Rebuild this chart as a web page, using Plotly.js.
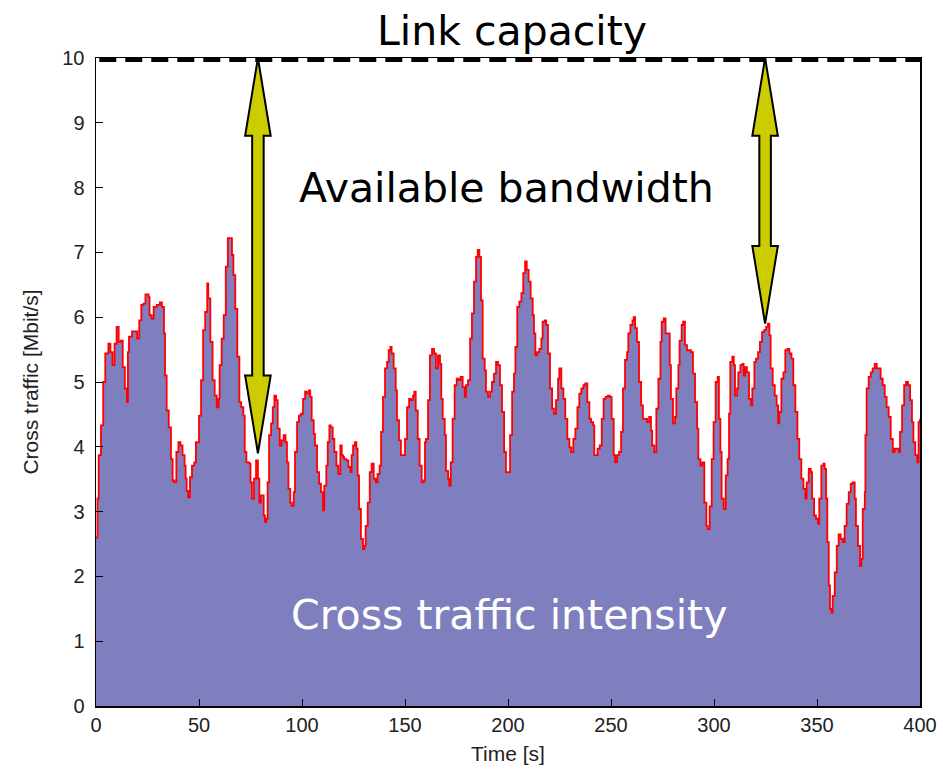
<!DOCTYPE html>
<html>
<head>
<meta charset="utf-8">
<script src="https://cdn.plot.ly/plotly-3.0.1.min.js"></script>
<style>html,body{margin:0;padding:0;background:#fff;}#chart{width:943px;height:774px;}</style>
</head>
<body>
<div id="chart"></div>
<script>
const timeS = [0,0.7,1.3,2.4,3.5,4.5,6,7,8,9,10,11,12,13,14,15,15.5,16,17.5,19,20,21,22,23,24,25.5,26,27,28,29.5,31,32,33,33.5,34.3,35.3,36.4,37.2,38,39,40,41,42,43,43.5,44,44.7,45.6,46.6,47.7,48.5,50,51,52,53,54,54.5,55.5,56.6,57.6,58.6,59.5,60,61,62,63,64,65,66,66.7,67.6,68.6,69.6,70.5,71.5,72.2,73,74.4,75,75.7,76.7,77.7,78.6,79.3,80,81.4,82,82.7,83.3,84,85,85.8,86.6,87.4,88.2,89.2,90.1,91.1,92,92.7,93.4,94.3,95,96,96.6,97.6,98.5,99.5,100.5,101.5,102.4,103.4,104,104.7,105.7,106.3,107.3,108.3,109.2,110.2,110.8,111.8,112.5,113.3,114,114.9,115.7,116.7,117.6,118.6,119.3,119.9,120.5,121.5,122.5,123.5,124.1,124.8,125.7,126.4,127,127.7,128.6,129.6,130.3,130.9,131.9,132.9,133.8,134.8,135.8,136.7,137.7,138.4,139.3,140.3,141.3,142.1,142.9,143.5,144.5,145.5,146.1,147.1,148,149,150,151,152,152.9,153.9,154.5,155.2,156.2,157.1,158.1,159.1,159.7,160.2,161.2,162.1,163.1,164.1,165,166,167,167.6,168.3,169.3,169.9,170.9,171.5,172.2,173.1,174.1,175.1,176,177,178,179,179.6,180.6,181.6,182.5,183.5,184.5,185.3,186.1,186.9,187.7,188.7,189.3,190.3,191.3,192.2,193.2,194.2,195.2,196.1,197.1,198.1,199,200,201,202,202.9,203.6,204.5,205.5,206.5,207.4,208.3,209.1,210,211,212,212.6,213.3,214.2,215.2,216.2,216.8,217.8,218.5,219.4,220.4,221.4,222.3,223.3,224.3,224.9,225.9,226.9,227.8,228.8,229.8,230.7,231.7,232.7,233.7,234.6,235.6,236.6,237.5,238.5,239.5,240.3,241.3,241.9,242.6,243.5,244.5,245.5,246.4,247.4,248.4,249.4,250.3,251.3,252,252.9,253.9,254.9,255.8,256.8,257.8,258.4,259.4,260.4,261,261.7,262.6,263.6,264.6,265.5,266.5,267.5,268.5,269.4,270,271,272,273,274,274.6,275.6,276.5,277.5,278.5,279.1,280.1,281.1,281.7,282.7,283.3,284.3,285,285.9,286.9,287.9,288.8,289.8,290.8,291.8,292.4,293.4,294.3,295.3,296.3,296.9,297.9,298.9,299.8,300.8,301.8,302.4,303.1,303.7,304.7,305.7,306.6,307.3,307.9,308.9,309.6,310.2,311.2,311.8,312.8,313.8,314.4,315.1,316,317,318,318.6,319.6,320.4,321.4,322.3,323.3,324.3,325.3,326.2,326.9,327.5,328.5,329.5,330.4,331.1,331.7,332.7,333.7,334.6,335.6,336.6,337.6,338.5,339.5,340.5,341.4,342.4,343.4,344.4,345,346,347,347.6,348.6,349.5,350.5,351.1,352.1,353.1,353.7,354.4,355,355.7,356.3,357,357.6,358.6,359.6,360.5,361.5,362.5,363.4,364.4,365.4,366.4,367.3,368.3,368.9,369.9,370.9,371.5,372.2,373.2,373.5,374.1,375.1,376.1,377,378,379,380,380.9,381.9,382.9,383.8,384.8,385.8,386.8,387.7,388.7,389.7,390.3,391.3,392.3,393.2,394.2,395.2,396.1,396.8,397.7,398.7,399.3,400];
const crossTraffic = [2.6,3.2,3.87,4.33,5.0,5.44,5.59,5.46,5.26,5.59,5.85,5.62,5.64,5.23,4.90,4.69,5.46,5.70,5.78,5.78,5.67,5.95,6.19,6.21,6.35,6.31,6.03,5.98,6.16,6.19,6.23,6.16,5.75,5.10,4.56,4.30,3.81,3.48,3.45,3.92,4.07,4.02,3.87,3.71,3.51,3.32,3.22,3.53,3.71,3.76,4.07,4.48,5.03,5.80,6.08,6.52,6.29,5.62,5.03,4.79,4.61,4.74,5.26,5.67,6.03,6.78,7.22,7.22,6.96,6.65,6.13,5.39,4.69,4.61,4.48,3.92,3.76,3.74,3.45,3.20,3.51,3.79,3.51,3.14,3.25,2.94,2.84,2.89,3.45,4.18,4.36,4.61,4.79,4.72,4.28,4.02,4.10,4.18,4.07,3.76,3.35,3.14,3.09,3.30,3.92,4.38,4.48,4.51,4.74,4.85,4.82,4.87,4.77,4.41,4.20,4.02,3.61,3.43,3.30,3.02,3.40,3.71,4.07,4.33,4.30,4.12,3.92,3.71,3.58,4.02,3.87,3.84,3.81,3.79,3.69,3.61,3.87,4.02,4.07,3.97,3.56,3.04,2.58,2.42,2.47,2.78,3.14,3.61,3.74,3.51,3.45,3.58,3.71,4.23,4.77,5.21,5.31,5.49,5.54,5.44,5.21,4.87,4.41,4.10,3.87,3.87,4.12,4.61,4.74,4.72,4.79,4.85,4.56,4.12,3.71,3.45,3.48,4.07,4.12,4.72,5.41,5.51,5.44,5.21,5.41,5.28,4.74,4.43,4.18,3.63,3.51,3.40,3.76,4.43,4.95,5.05,5.03,5.08,4.92,4.77,4.95,5.03,5.67,6.06,6.55,6.93,7.04,6.93,6.26,5.36,5.18,4.85,4.77,4.85,5.00,5.13,5.31,5.26,4.95,4.54,3.92,3.61,3.61,4.18,4.85,5.13,5.54,6.16,6.24,6.37,6.68,6.86,6.73,6.55,6.29,6.03,5.75,5.41,5.46,5.51,5.67,5.93,5.95,5.88,5.44,4.90,4.59,4.51,4.72,5.05,5.21,4.90,4.74,4.43,4.12,3.99,3.92,4.12,4.28,4.61,4.82,4.90,4.95,4.98,4.69,4.43,4.38,4.33,3.87,3.87,3.97,4.02,4.43,4.74,4.77,4.79,4.77,4.43,3.87,3.76,3.87,3.92,4.23,4.90,5.34,5.46,5.75,5.88,5.95,6.0,5.83,5.62,5.00,4.64,4.43,4.43,4.38,4.46,4.25,4.02,3.92,4.59,5.05,5.62,5.93,5.98,5.75,5.75,5.26,4.74,4.36,4.46,4.90,5.26,5.64,5.88,5.93,5.57,5.49,5.49,5.46,5.13,4.69,4.28,3.81,3.71,3.76,3.14,2.78,2.73,3.08,3.81,4.38,5.00,5.08,4.43,3.92,3.20,3.04,3.56,3.81,4.51,5.31,5.39,5.26,4.79,4.90,5.15,5.26,5.28,5.10,5.23,5.15,4.74,4.64,4.90,5.31,5.36,5.46,5.62,5.77,5.80,5.85,5.90,5.72,5.21,4.95,4.79,4.64,4.36,4.54,5.05,5.15,5.49,5.51,5.44,5.36,4.95,4.54,4.12,3.81,3.51,3.35,3.20,3.45,3.66,3.61,3.20,2.94,2.89,2.81,3.20,3.71,3.74,3.66,3.20,2.53,1.86,1.50,1.44,1.70,2.06,2.47,2.65,2.58,2.53,2.78,3.12,3.30,3.43,3.45,3.20,2.78,2.47,2.16,2.27,3.04,3.30,4.18,4.90,5.08,5.15,5.21,5.28,5.21,5.21,5.05,4.95,4.77,4.61,4.46,4.12,3.92,3.97,3.97,3.92,4.23,4.64,4.95,5.00,4.95,4.72,4.38,4.07,3.87,3.76,4.38,4.43];

const linkCapacity = 10;
const xTicks = [0,50,100,150,200,250,300,350,400];
const yTicks = [0,1,2,3,4,5,6,7,8,9,10];
const arrowTimes = [78.6, 324.8];
const arrowBottoms = [3.9, 5.9];
const labels = {capacity: "Link capacity", available: "Available bandwidth", intensity: "Cross traffic intensity"};

const xMax = xTicks[xTicks.length - 1];
const yMax = yTicks[yTicks.length - 1];

// arrow geometry in data units
const headHalfW = 6.2, shaftHalfW = 2.8, headLen = 1.2;
function arrowPath(x, top, bot) {
  const p = [
    [x, top], [x + headHalfW, top - headLen], [x + shaftHalfW, top - headLen],
    [x + shaftHalfW, bot + headLen], [x + headHalfW, bot + headLen], [x, bot],
    [x - headHalfW, bot + headLen], [x - shaftHalfW, bot + headLen],
    [x - shaftHalfW, top - headLen], [x - headHalfW, top - headLen]
  ];
  return 'M ' + p.map(q => q[0] + ',' + q[1]).join(' L ') + ' Z';
}

// dashed capacity line in paper coords so it is not clipped at the plot's top edge
const shapes = [{
  type: 'line', xref: 'paper', yref: 'paper', x0: 0.004, x1: 1,
  y0: linkCapacity / yMax - 0.003, y1: linkCapacity / yMax - 0.003,
  line: {color: '#000', width: 4, dash: '17px,9px'}, layer: 'above'
}];
arrowTimes.forEach((t, i) => {
  shapes.push({type: 'path', xref: 'x', yref: 'y', path: arrowPath(t, linkCapacity, arrowBottoms[i]),
    fillcolor: '#CCCC00', line: {color: '#000', width: 2}, layer: 'above'});
});

const trace = {
  x: timeS, y: crossTraffic, type: 'scatter', mode: 'lines',
  line: {color: '#FF0000', width: 1.8, shape: 'hv'},
  fill: 'tozeroy', fillcolor: '#7F7FBF', hoverinfo: 'skip'
};

const tickFont = {family: 'Liberation Sans, Arial, sans-serif', size: 20, color: '#222'};
const layout = {
  width: 943, height: 774,
  margin: {l: 96, r: 23, t: 58, b: 68},
  paper_bgcolor: '#fff', plot_bgcolor: '#fff',
  showlegend: false,
  font: {family: 'Liberation Sans, Arial, sans-serif', color: '#000', size: 20},
  xaxis: {
    range: [0, xMax], tickvals: xTicks, ticktext: xTicks.map(String),
    ticks: 'inside', ticklen: 7, tickcolor: '#000', showgrid: false, zeroline: false,
    showline: true, linecolor: '#000', linewidth: 1.5, mirror: true,
    tickfont: tickFont, title: {text: 'Time [s]', font: {size: 21, color: '#222'}, standoff: 12}
  },
  yaxis: {
    range: [0, yMax], tickvals: yTicks, ticktext: yTicks.map(String),
    ticks: 'inside', ticklen: 7, tickcolor: '#000', showgrid: false, zeroline: false,
    showline: true, linecolor: '#000', linewidth: 1.5, mirror: true,
    ticklabelstandoff: 6,
    tickfont: tickFont, title: {text: 'Cross traffic [Mbit/s]', font: {size: 21, color: '#222'}, standoff: 18}
  },
  shapes: shapes,
  annotations: [
    {xref: 'paper', yref: 'paper', x: 0.5045, y: 1.0, yanchor: 'bottom', yshift: 1, showarrow: false,
     text: labels.capacity, font: {family: 'DejaVu Sans', size: 41, color: '#000'}},
    {xref: 'x', yref: 'y', x: 199.5, y: 8.0, showarrow: false,
     text: labels.available, font: {family: 'DejaVu Sans', size: 41, color: '#000'}},
    {xref: 'x', yref: 'y', x: 200.5, y: 1.4, showarrow: false,
     text: labels.intensity, font: {family: 'DejaVu Sans', size: 41, color: '#fff'}}
  ]
};

Plotly.newPlot('chart', [trace], layout, {displayModeBar: false, staticPlot: true});
</script>
</body>
</html>
